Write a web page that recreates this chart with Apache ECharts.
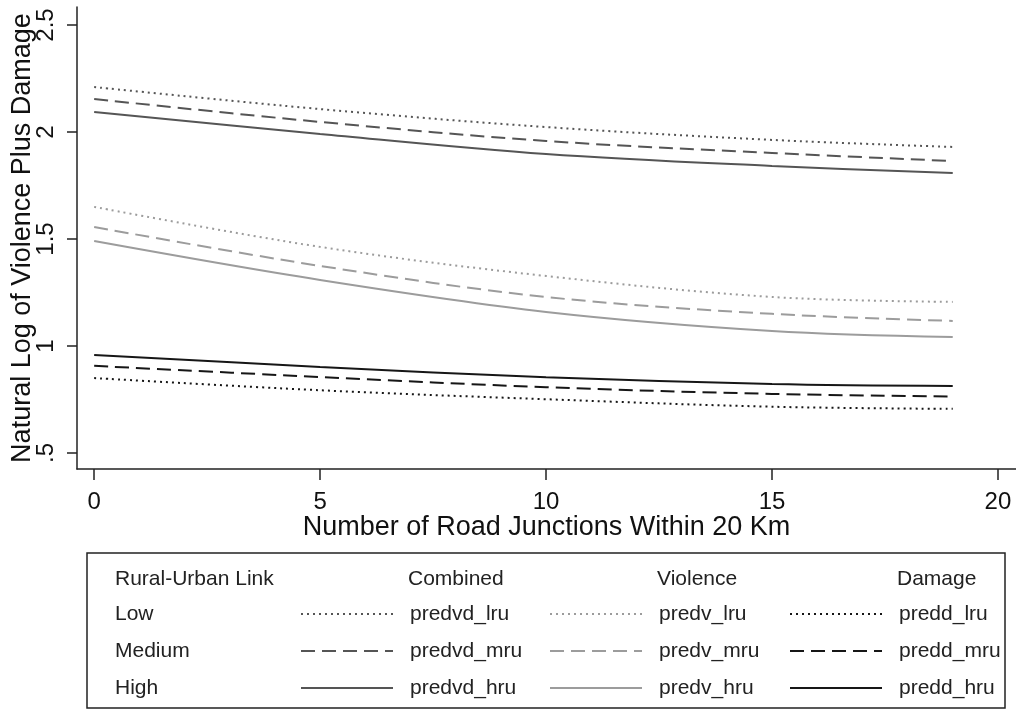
<!DOCTYPE html>
<html>
<head>
<meta charset="utf-8">
<script src="https://cdn.jsdelivr.net/npm/echarts@6/dist/echarts.min.js"></script>
<style>html,body{margin:0;padding:0;background:#fff;}#c{width:1016px;height:710px;}</style>
</head>
<body>
<div id="c"></div>
<script>
var xValues = [0, 5, 10, 15, 19];
var predvd_lru = [2.21, 2.107, 2.023, 1.963, 1.93];
var predvd_mru = [2.154, 2.047, 1.958, 1.902, 1.864];
var predvd_hru = [2.093, 1.991, 1.897, 1.841, 1.808];
var predv_lru = [1.65, 1.463, 1.327, 1.229, 1.206];
var predv_mru = [1.556, 1.374, 1.229, 1.15, 1.117];
var predv_hru = [1.49, 1.308, 1.159, 1.07, 1.042];
var predd_lru = [0.85, 0.793, 0.751, 0.716, 0.706];
var predd_mru = [0.907, 0.855, 0.807, 0.776, 0.764];
var predd_hru = [0.958, 0.902, 0.854, 0.822, 0.813];
var xTicks = [0, 5, 10, 15, 20];
var yTicks = [0.5, 1, 1.5, 2, 2.5];
var xTitle = 'Number of Road Junctions Within 20 Km';
var yTitle = 'Natural Log of Violence Plus Damage';
var rowLabels = ['Low', 'Medium', 'High'];
var groupHeaders = ['Rural-Urban Link', 'Combined', 'Violence', 'Damage'];

var FONT = 'Liberation Sans, Arial, Helvetica, sans-serif';
var COL_COMB = '#555555', COL_VIOL = '#9c9c9c', COL_DAM = '#161616';
var DOT = [2, 4], DASH = [14, 7];

function pairs(ys) { return xValues.map(function (x, i) { return [x, ys[i]]; }); }
function mk(name, ys, color, type) {
  return {
    name: name, type: 'line', data: pairs(ys), smooth: 0.35,
    symbol: 'none', showSymbol: false,
    lineStyle: { color: color, width: 2, type: type },
    itemStyle: { color: color }, silent: true, animation: false
  };
}
var series = [
  mk('predvd_lru', predvd_lru, COL_COMB, DOT),
  mk('predvd_mru', predvd_mru, COL_COMB, DASH),
  mk('predvd_hru', predvd_hru, COL_COMB, 'solid'),
  mk('predv_lru', predv_lru, COL_VIOL, DOT),
  mk('predv_mru', predv_mru, COL_VIOL, DASH),
  mk('predv_hru', predv_hru, COL_VIOL, 'solid'),
  mk('predd_lru', predd_lru, COL_DAM, DOT),
  mk('predd_mru', predd_mru, COL_DAM, DASH),
  mk('predd_hru', predd_hru, COL_DAM, 'solid')
];

function legendAt(left, names) {
  return {
    orient: 'vertical', left: left, top: 602,
    itemWidth: 92, itemHeight: 24, itemGap: 13,
    padding: 0, selectedMode: false,
    itemStyle: { opacity: 0 },
    data: names,
    textStyle: { fontFamily: FONT, fontSize: 21, color: '#222', lineHeight: 24, padding: [0, 0, 0, 12] }
  };
}

var headerX = [115, 408, 657, 897];
var rowY = [614, 651, 688];
var graphics = [{
  type: 'rect', shape: { x: 87, y: 553, width: 918, height: 155 },
  style: { fill: 'none', stroke: '#222', lineWidth: 1.5 }, silent: true
}];
groupHeaders.forEach(function (t, i) {
  graphics.push({ type: 'text', left: headerX[i], top: 569, silent: true,
    style: { text: t, fontFamily: FONT, fontSize: 21, fill: '#222' } });
});
rowLabels.forEach(function (t, i) {
  graphics.push({ type: 'text', left: 115, top: rowY[i] - 12, silent: true,
    style: { text: t, fontFamily: FONT, fontSize: 21, fill: '#222', lineHeight: 24 } });
});

var chart = echarts.init(document.getElementById('c'), null, { renderer: 'canvas' });
chart.setOption({
  animation: false,
  backgroundColor: '#fff',
  grid: { left: 77, right: 0, top: 7, bottom: 241, containLabel: false, outerBoundsMode: 'none' },
  xAxis: {
    type: 'value', min: -0.38, max: 20.4,
    name: xTitle, nameLocation: 'middle', nameGap: 45, nameMoveOverlap: false,
    nameTextStyle: { fontFamily: FONT, fontSize: 27, color: '#111' },
    axisLine: { show: true, onZero: false, lineStyle: { color: '#222', width: 1.5 } },
    axisTick: { show: true, length: 11, lineStyle: { color: '#222', width: 1.5 }, customValues: xTicks },
    axisLabel: { fontFamily: FONT, fontSize: 24, color: '#111', margin: 21, customValues: xTicks },
    splitLine: { show: false }
  },
  yAxis: {
    type: 'value', min: 0.425, max: 2.584,
    name: yTitle, nameLocation: 'middle', nameGap: 41, nameRotate: 90, nameMoveOverlap: false,
    nameTextStyle: { fontFamily: FONT, fontSize: 27, color: '#111' },
    axisLine: { show: true, onZero: false, lineStyle: { color: '#222', width: 1.5 } },
    axisTick: { show: true, length: 10, lineStyle: { color: '#222', width: 1.5 }, customValues: yTicks },
    axisLabel: { fontFamily: FONT, fontSize: 24, color: '#111', margin: 19, rotate: 90, customValues: yTicks,
      formatter: function (v) { var s = String(v); return s.indexOf('0.') === 0 ? s.slice(1) : s; } },
    splitLine: { show: false }
  },
  legend: [
    legendAt(300, ['predvd_lru', 'predvd_mru', 'predvd_hru']),
    legendAt(549, ['predv_lru', 'predv_mru', 'predv_hru']),
    legendAt(789, ['predd_lru', 'predd_mru', 'predd_hru'])
  ],
  graphic: graphics,
  series: series
});
</script>
</body>
</html>
